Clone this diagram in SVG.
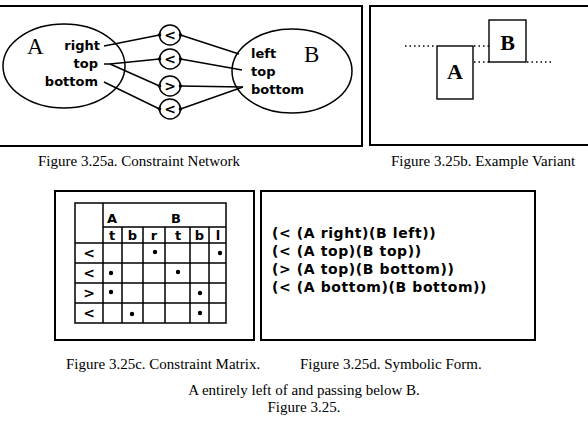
<svg xmlns="http://www.w3.org/2000/svg" width="588" height="423" viewBox="0 0 588 423">
<style>
.frame{fill:none;stroke:#000;stroke-width:2}
.ell{fill:none;stroke:#000;stroke-width:1.5}
.ln{fill:none;stroke:#000;stroke-width:1.4}
.dot{fill:#000}
.lab{font-family:"DejaVu Sans",sans-serif;font-weight:bold;font-size:13px;fill:#000}
.big{font-family:"Liberation Serif",serif;font-size:23px;fill:#000}
.bigb{font-family:"Liberation Serif",serif;font-weight:bold;font-size:22px;fill:#000}
.cap{font-family:"Liberation Serif",serif;font-size:15px;fill:#000}
.sym{font-family:"DejaVu Sans",sans-serif;font-weight:bold;font-size:14px;fill:#000;letter-spacing:0.6px}
.tb{fill:none;stroke:#000;stroke-width:1.5}
.th{font-family:"DejaVu Sans",sans-serif;font-weight:bold;font-size:13px;fill:#000;text-anchor:middle}
.cs{font-family:"DejaVu Sans",sans-serif;font-weight:bold;font-size:14px;fill:#000;text-anchor:middle}
.dots{fill:none;stroke:#000;stroke-width:1.3;stroke-dasharray:1.5 3}
</style>

<!-- Panel a: constraint network -->
<g id="panel-a">
  <rect class="frame" x="-2" y="6" width="364" height="140"/>
</g>
<g id="node-A">
  <ellipse class="ell" cx="64" cy="66" rx="61" ry="42"/>
  <text class="big" x="27" y="54">A</text>
  <text class="lab" x="100" y="50" text-anchor="end">right</text>
  <text class="lab" x="98" y="68" text-anchor="end">top</text>
  <text class="lab" x="98" y="86" text-anchor="end">bottom</text>
</g>
<g id="node-B">
  <ellipse class="ell" cx="292" cy="71" rx="60" ry="42"/>
  <text class="big" x="304" y="62">B</text>
  <text class="lab" x="251" y="58">left</text>
  <text class="lab" x="251" y="76">top</text>
  <text class="lab" x="251" y="94">bottom</text>
</g>
<g id="c1">
  <ellipse class="ell" cx="170" cy="35" rx="10.5" ry="10"/>
  <text class="cs" x="170" y="40">&lt;</text>
</g>
<g id="c2">
  <ellipse class="ell" cx="170" cy="59" rx="10.5" ry="10"/>
  <text class="cs" x="170" y="64">&lt;</text>
</g>
<g id="c3">
  <ellipse class="ell" cx="170" cy="86" rx="10.5" ry="10"/>
  <text class="cs" x="170" y="91">&gt;</text>
</g>
<g id="c4">
  <ellipse class="ell" cx="170" cy="109" rx="10.5" ry="10"/>
  <text class="cs" x="170" y="114">&lt;</text>
</g>
<g id="connectors">
  <path class="ln" d="M104,46 L159.5,35 M180.5,35 L239,54"/>
  <path class="ln" d="M104,64 L110,64 L159.5,59 M180.5,59 L242,70"/>
  <path class="ln" d="M110,64 L159.5,86 M180.5,86 L243,87"/>
  <path class="ln" d="M104,82 L159.5,109 M180.5,109 L243,87"/>
  <circle class="dot" cx="159.5" cy="35" r="1.8"/>
  <circle class="dot" cx="180.5" cy="35" r="1.8"/>
  <circle class="dot" cx="159.5" cy="59" r="1.8"/>
  <circle class="dot" cx="180.5" cy="59" r="1.8"/>
  <circle class="dot" cx="159.5" cy="86" r="1.8"/>
  <circle class="dot" cx="180.5" cy="86" r="1.8"/>
  <circle class="dot" cx="159.5" cy="109" r="1.8"/>
  <circle class="dot" cx="180.5" cy="109" r="1.8"/>
</g>
<text class="cap" x="38" y="166">Figure 3.25a. Constraint Network</text>

<!-- Panel b: example variant -->
<g id="panel-b">
  <rect class="frame" x="370" y="6" width="230" height="139"/>
  <path class="dots" d="M405,46 L436,46 M474,46 L489,46 M474,62 L489,62 M527,62 L551,62"/>
  <rect class="ln" x="437" y="46" width="36" height="53"/>
  <text class="bigb" x="455" y="79" text-anchor="middle">A</text>
  <rect class="ln" x="489" y="20" width="37" height="42"/>
  <text class="bigb" x="507.5" y="50" text-anchor="middle">B</text>
</g>
<text class="cap" x="391" y="166">Figure 3.25b. Example Variant</text>

<!-- Panel c: constraint matrix -->
<g id="panel-c">
  <rect class="frame" x="55" y="191" width="199" height="149"/>
  <rect class="tb" x="75" y="203" width="151" height="120"/>
  <path class="tb" d="M103,203 V323 M103,227 H226 M75,243 H226 M75,263 H226 M75,283 H226 M75,303 H226 M122,227 V323 M143,227 V323 M165,227 V323 M190,227 V323 M209,227 V323"/>
  <text class="th" x="112" y="223">A</text>
  <text class="th" x="176" y="223">B</text>
  <text class="th" x="112" y="240">t</text>
  <text class="th" x="132.5" y="240">b</text>
  <text class="th" x="154" y="240">r</text>
  <text class="th" x="178" y="240">t</text>
  <text class="th" x="199.5" y="240">b</text>
  <text class="th" x="218" y="240">l</text>
  <text class="cs" x="89" y="258">&lt;</text>
  <text class="cs" x="89" y="278">&lt;</text>
  <text class="cs" x="89" y="298">&gt;</text>
  <text class="cs" x="89" y="318">&lt;</text>
  <circle class="dot" cx="155" cy="252" r="2.2"/>
  <circle class="dot" cx="220" cy="253" r="2.2"/>
  <circle class="dot" cx="111" cy="273" r="2.2"/>
  <circle class="dot" cx="178" cy="272" r="2.2"/>
  <circle class="dot" cx="111" cy="292" r="2.2"/>
  <circle class="dot" cx="200" cy="293" r="2.2"/>
  <circle class="dot" cx="132" cy="314" r="2.2"/>
  <circle class="dot" cx="200" cy="313" r="2.2"/>
</g>
<text class="cap" x="66" y="369">Figure 3.25c. Constraint Matrix.</text>

<!-- Panel d: symbolic form -->
<g id="panel-d">
  <rect class="frame" x="261" y="191" width="274" height="149"/>
  <text class="sym" x="272" y="238">(&lt; (A right)(B left))</text>
  <text class="sym" x="272" y="256">(&lt; (A top)(B top))</text>
  <text class="sym" x="272" y="274">(&gt; (A top)(B bottom))</text>
  <text class="sym" x="272" y="292">(&lt; (A bottom)(B bottom))</text>
</g>
<text class="cap" x="300" y="369">Figure 3.25d. Symbolic Form.</text>

<text class="cap" x="304" y="395" text-anchor="middle">A entirely left of and passing below B.</text>
<text class="cap" x="304" y="412" text-anchor="middle">Figure 3.25.</text>
</svg>
